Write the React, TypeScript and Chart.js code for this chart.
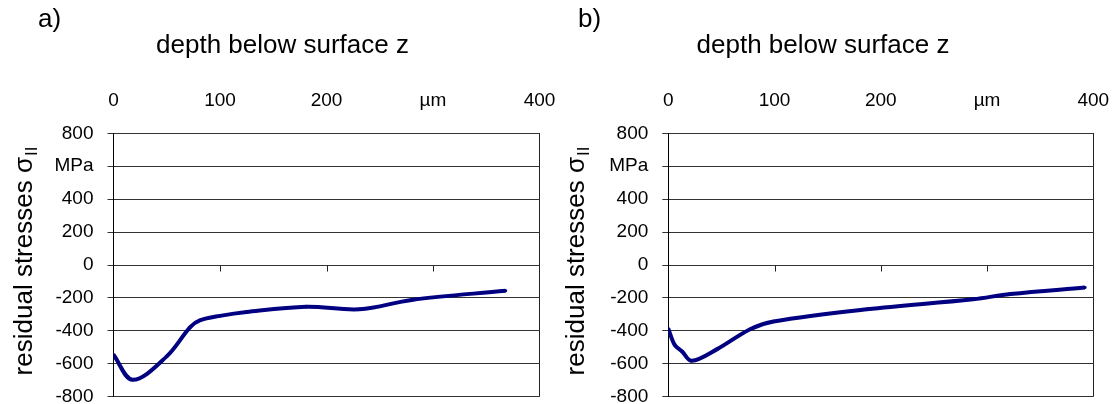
import React, { useEffect, useRef } from 'react';
import { Chart, registerables } from 'chart.js';

Chart.register(...registerables);

// depth axis (µm) — the 300 position carries the unit label
const depthTicks = [0, 100, 200, 300, 400];
const depthTickLabels = ['0', '100', '200', 'µm', '400'];

// stress axis (MPa) — the 600 position carries the unit label
const stressTicks = [-800, -600, -400, -200, 0, 200, 400, 600, 800];
const stressTickLabels = ['-800', '-600', '-400', '-200', '0', '200', '400', 'MPa', '800'];

// panel a) measured profile
const depthA = [0, 18, 50, 72, 81, 100, 125, 181, 231, 280, 368];
const stressA = [-545, -697, -555, -378, -337, -309, -285, -253, -269, -212, -156];

// panel b) measured profile
const depthB = [0, 6, 13, 22, 46, 77, 99, 187, 287, 322, 392];
const stressB = [-387, -485, -525, -582, -511, -390, -343, -269, -208, -176, -137];

const FONT = '"Liberation Sans", Arial, Helvetica, sans-serif';
const W = 559;
const H = 404;

type PanelLayout = {
  tag: string;
  depth: number[];
  stress: number[];
  axisWidth: number;
  rightPad: number;
  tagX: number;
  titleX: number;
  yTitleX: number;
};

const panels: PanelLayout[] = [
  { tag: 'a)', depth: depthA, stress: stressA, axisWidth: 113.5, rightPad: 19.5, tagX: 38, titleX: 282.5, yTitleX: 32 },
  { tag: 'b)', depth: depthB, stress: stressB, axisWidth: 109.3, rightPad: 24.7, tagX: 19, titleX: 264, yTitleX: 25 },
];

function makeDecor(p: PanelLayout) {
  return {
    id: 'panelDecor',
    afterDraw(chart: any) {
      const { ctx, chartArea, scales } = chart;
      const xs = scales.x;
      const ys = scales.y;
      ctx.save();
      // small tick marks on the zero line
      const y0 = Math.round(ys.getPixelForValue(0)) + 0.5;
      ctx.strokeStyle = '#222';
      ctx.lineWidth = 1;
      ctx.beginPath();
      for (const v of depthTicks) {
        if (v === 0 || v === 400) continue;
        const x = Math.round(xs.getPixelForValue(v)) + 0.5;
        ctx.moveTo(x, y0);
        ctx.lineTo(x, y0 + 6);
      }
      ctx.stroke();

      ctx.fillStyle = '#000';
      // panel tag
      ctx.font = `26px ${FONT}`;
      ctx.textAlign = 'left';
      ctx.textBaseline = 'alphabetic';
      ctx.fillText(p.tag, p.tagX, 27);
      // axis title (depth)
      ctx.textAlign = 'center';
      ctx.fillText('depth below surface z', p.titleX, 53);

      // rotated stress title with subscript
      const main = 'residual stresses σ';
      const sub = 'II';
      ctx.font = `26px ${FONT}`;
      const wMain = ctx.measureText(main).width;
      ctx.font = `17px ${FONT}`;
      const wSub = ctx.measureText(sub).width;
      const total = wMain + wSub + 1;
      const cy = (chartArea.top + chartArea.bottom) / 2 - 4;
      ctx.translate(p.yTitleX, cy);
      ctx.rotate(-Math.PI / 2);
      ctx.textAlign = 'left';
      ctx.font = `26px ${FONT}`;
      ctx.fillText(main, -total / 2, 0);
      ctx.font = `17px ${FONT}`;
      ctx.fillText(sub, -total / 2 + wMain + 1, 5);
      ctx.restore();
    },
  };
}

function Panel({ layout }: { layout: PanelLayout }) {
  const ref = useRef<HTMLCanvasElement | null>(null);
  useEffect(() => {
    if (!ref.current) return;
    const tickFont = { family: FONT, size: 19 };
    const chart = new Chart(ref.current, {
      type: 'line',
      data: {
        datasets: [
          {
            data: layout.depth.map((x, i) => ({ x, y: layout.stress[i] })),
            borderColor: '#000080',
            backgroundColor: '#000080',
            borderWidth: 4,
            pointRadius: 1.8,
            pointBorderWidth: 0,
            pointBackgroundColor: '#000080',
            tension: 0.35,
            fill: false,
          },
        ],
      },
      options: {
        responsive: false,
        animation: false,
        devicePixelRatio: 1,
        events: [],
        layout: { padding: { left: 0, right: layout.rightPad, top: 0, bottom: H - 396.7 } },
        plugins: { legend: { display: false }, tooltip: { enabled: false }, title: { display: false } },
        scales: {
          x: {
            type: 'linear',
            position: 'top',
            min: 0,
            max: 400,
            afterBuildTicks: (s: any) => {
              s.ticks = depthTicks.map((v) => ({ value: v }));
            },
            afterFit: (s: any) => {
              s.height = 133.3;
              s.paddingLeft = 0;
              s.paddingRight = 0;
            },
            ticks: {
              callback: (v: any) => depthTickLabels[depthTicks.indexOf(Number(v))],
              font: tickFont,
              color: '#000',
              padding: 21,
              maxRotation: 0,
              autoSkip: false,
            },
            grid: {
              drawTicks: false,
              color: (c: any) => (c.tick && c.tick.value === 400 ? '#222' : 'rgba(0,0,0,0)'),
              lineWidth: 1,
            },
            border: { display: false },
          },
          y: {
            type: 'linear',
            min: -800,
            max: 800,
            afterBuildTicks: (s: any) => {
              s.ticks = stressTicks.map((v) => ({ value: v }));
            },
            afterFit: (s: any) => {
              s.width = layout.axisWidth;
              s.paddingTop = 0;
              s.paddingBottom = 0;
            },
            ticks: {
              callback: (v: any) => stressTickLabels[stressTicks.indexOf(Number(v))],
              font: tickFont,
              color: '#000',
              padding: 14,
              autoSkip: false,
            },
            grid: { color: '#333', lineWidth: 1, tickLength: 6, drawTicks: true },
            border: { display: true, color: '#000', width: 1 },
          },
        },
      },
      plugins: [makeDecor(layout)],
    } as any);
    return () => chart.destroy();
  }, [layout]);
  return <canvas ref={ref} width={W} height={H} style={{ display: 'block', width: W, height: H }} />;
}

export default function App() {
  return (
    <div style={{ position: 'fixed', left: 0, top: 0, width: 1118, height: 404, background: '#fff' }}>
      <div style={{ position: 'absolute', left: 0, top: 0 }}>
        <Panel layout={panels[0]} />
      </div>
      <div style={{ position: 'absolute', left: W, top: 0 }}>
        <Panel layout={panels[1]} />
      </div>
    </div>
  );
}
